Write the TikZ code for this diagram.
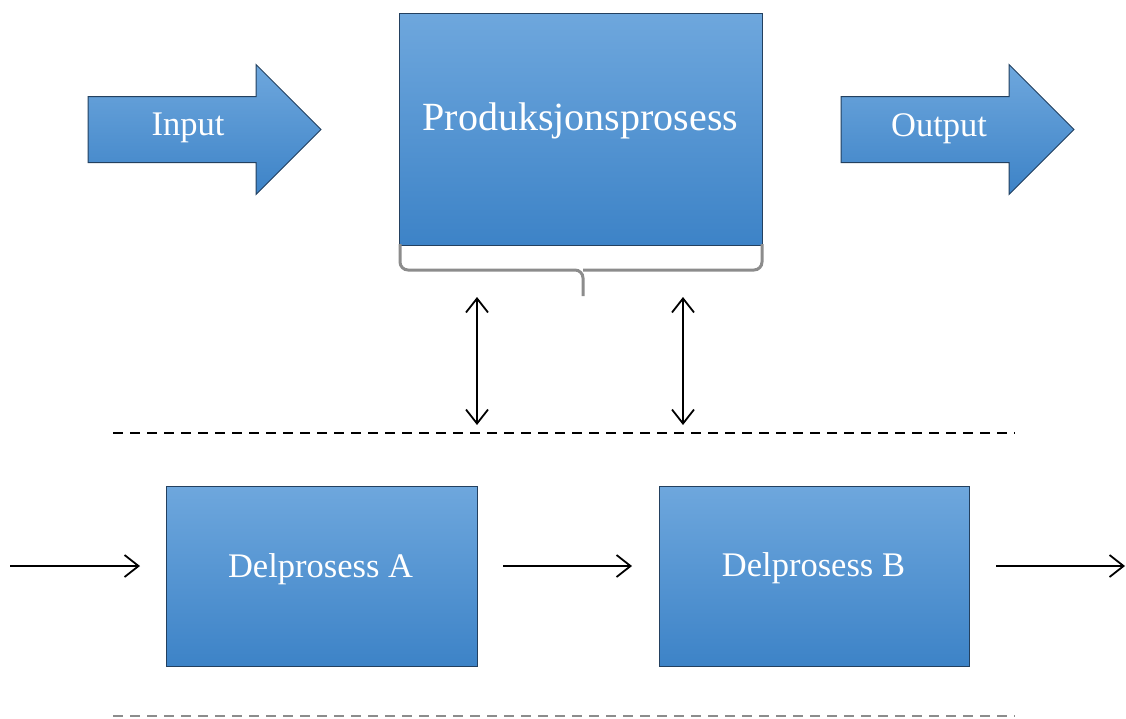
\documentclass[tikz,border=0pt]{standalone}
\usepackage{fontspec}
\setmainfont{Liberation Serif}
\usetikzlibrary{shapes.arrows,arrows.meta}
\definecolor{boxtop}{HTML}{6EA7DD}
\definecolor{boxbot}{HTML}{3D83C7}
\definecolor{boxline}{HTML}{23405F}
\definecolor{bracegray}{HTML}{8C8C8C}
\tikzset{
  barb/.tip={Straight Barb[length=14pt,width=22pt]},
  procbox/.style={draw=boxline, line width=1pt, top color=boxtop, bottom color=boxbot, inner sep=0pt},
  bigarrow/.style={single arrow, draw=boxline, line width=1pt, top color=boxtop, bottom color=boxbot,
    text height=32.5pt, text depth=32.5pt, text width=0pt,
    minimum height=233pt, single arrow head extend=32pt, inner sep=0pt},
  boxtext/.style={text=white, inner sep=0pt, font=\fontsize{34.5}{40}\selectfont},
  flow/.style={-barb, line width=1.8pt},
  sepline/.style={dash pattern=on 10pt off 7pt, line width=1.8pt},
}

\begin{document}
\begin{tikzpicture}[x=1pt,y=-1pt]
\useasboundingbox (0,0) rectangle (1126,718);

% top row
\node[bigarrow] (inarrow) at (188,129.5) {};
\node[boxtext] (intext) at (188,128) {Input};
\node[bigarrow] (outarrow) at (941,129.5) {};
\node[boxtext] (outtext) at (939,129) {Output};

\node[procbox, minimum width=363pt, minimum height=232pt] (prod) at (580.5,129) {};
\node[boxtext, font=\fontsize{40}{46}\selectfont] (prodtext) at (580.5,121) {Produksjonsprosess};

% brace under the main process
\draw[bracegray, line width=3pt, rounded corners=8pt] (400,244) |- (583,270) -- (583,296);
\draw[bracegray, line width=3pt, rounded corners=8pt] (762,244) |- (583,270);

% links to the sub processes
\coordinate (linkAtop) at (477,297);
\coordinate (linkAbot) at (477,425);
\coordinate (linkBtop) at (683,297);
\coordinate (linkBbot) at (683,425);
\draw[flow, barb-barb] (linkAtop) -- (linkAbot);
\draw[flow, barb-barb] (linkBtop) -- (linkBbot);

\coordinate (sepAleft) at (113,433);
\coordinate (sepAright) at (1015,433);
\draw[sepline] (sepAleft) -- (sepAright);

% bottom row
\node[procbox, minimum width=311pt, minimum height=180pt] (subA) at (321.5,576) {};
\node[boxtext] (subAtext) at (320.5,569) {Delprosess A};
\node[procbox, minimum width=310pt, minimum height=180pt] (subB) at (814,576) {};
\node[boxtext] (subBtext) at (813.5,568) {Delprosess B};

\coordinate (flowin) at (10,566);
\coordinate (intoA) at (140,566);
\coordinate (fromA) at (503,566);
\coordinate (intoB) at (632,566);
\coordinate (fromB) at (996,566);
\coordinate (flowout) at (1125,566);
\draw[flow] (flowin) -- (intoA);
\draw[flow] (fromA) -- (intoB);
\draw[flow] (fromB) -- (flowout);

\coordinate (sepBleft) at (113,716);
\coordinate (sepBright) at (1015,716);
\draw[sepline, bracegray] (sepBleft) -- (sepBright);
\end{tikzpicture}
\end{document}
